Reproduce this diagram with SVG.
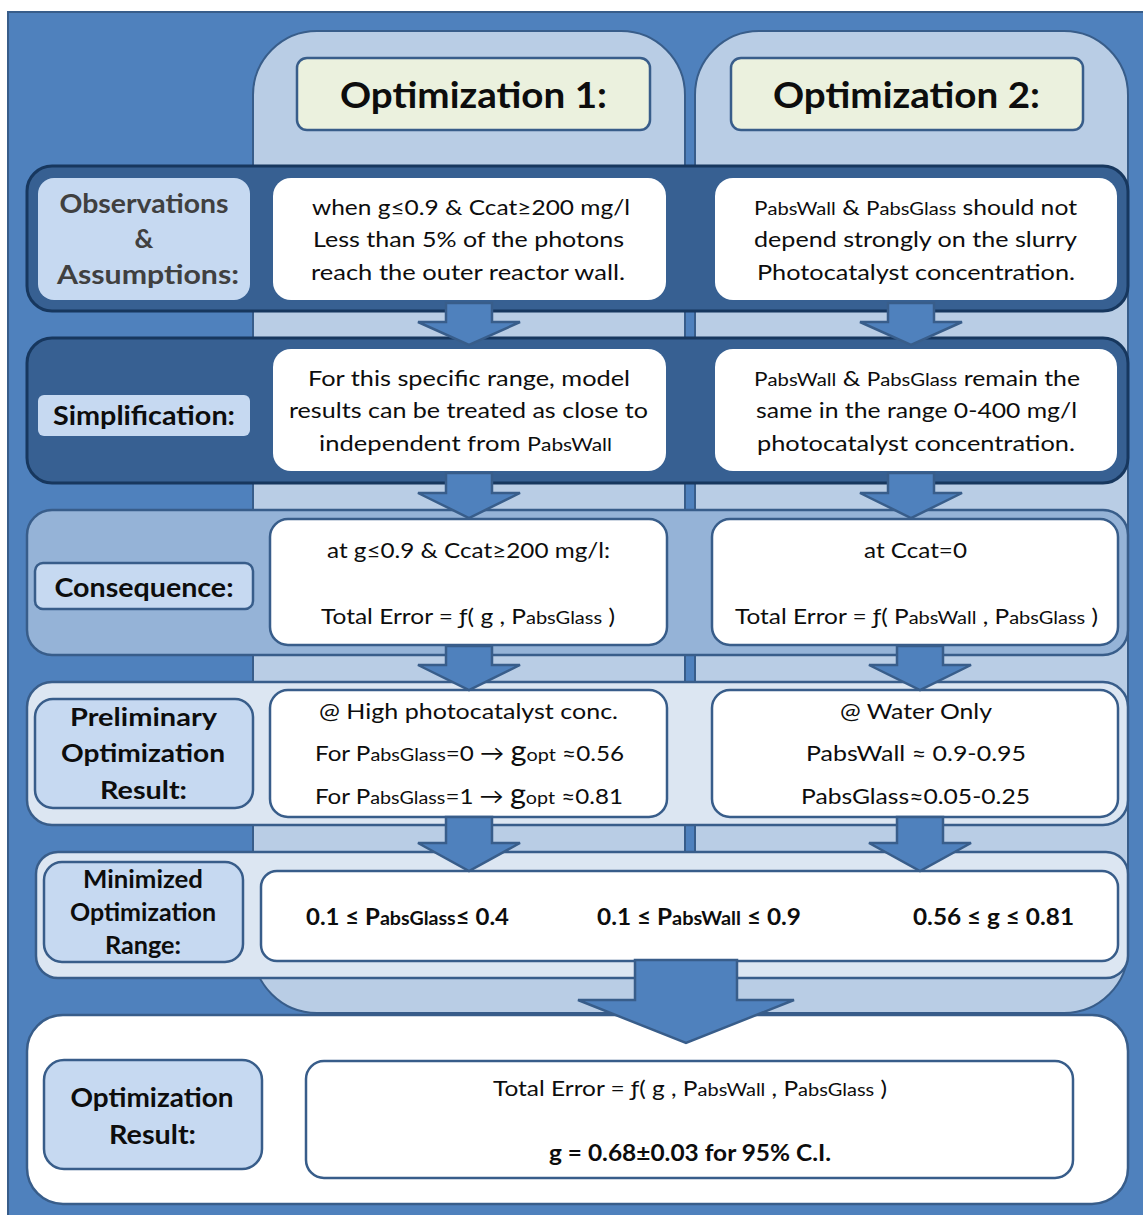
<svg xmlns="http://www.w3.org/2000/svg" width="1143" height="1215" viewBox="0 0 1143 1215">
  <style>
    text { font-family: Lato, "Open Sans", "DejaVu Sans", sans-serif; fill: #0d0d0d; text-anchor: middle; }
    .body { font-size: 22px; }
    .bold { font-weight: bold; }
    .head { font-size: 36px; font-weight: bold; }
    .lab { font-size: 26px; font-weight: bold; }
    .labS { font-size: 24px; font-weight: bold; }
    .grey { fill: #404040; }
    .s { font-size: 18px; }
    .g { font-size: 28px; }
    .col { fill: #b9cde5; stroke: #385d8a; stroke-width: 2; }
    .dark { fill: #376092; stroke: #17375e; stroke-width: 3; }
    .mid { fill: #95b3d7; stroke: #385d8a; stroke-width: 2.5; }
    .pale { fill: #dce6f2; stroke: #385d8a; stroke-width: 2.5; }
    .white { fill: #ffffff; }
    .wbox { fill: #ffffff; stroke: #385d8a; stroke-width: 2.5; }
    .label { fill: #c6d9f1; }
    .labelb { fill: #c6d9f1; stroke: #385d8a; stroke-width: 2.5; }
    .hdr { fill: #ebf1de; stroke: #385d8a; stroke-width: 2.5; }
    .arrow { fill: #4f81bd; stroke: #385d8a; stroke-width: 2.5; stroke-linejoin: miter; }
  </style>

  <!-- frame -->
  <rect x="8" y="12" width="1150" height="1215" fill="#4f81bd" stroke="#385d8a" stroke-width="2"/>

  <!-- column panels -->
  <g id="column-1">
    <rect class="col" x="253" y="31" width="432" height="982" rx="64" ry="64"/>
    <g id="header-1">
      <rect class="hdr" x="297" y="58" width="353" height="72" rx="10"/>
      <text class="head" x="473.5" y="108" textLength="267" lengthAdjust="spacingAndGlyphs">Optimization 1:</text>
    </g>
  </g>
  <g id="column-2">
    <rect class="col" x="695" y="31" width="433" height="982" rx="64" ry="64"/>
    <g id="header-2">
      <rect class="hdr" x="731" y="58" width="352" height="72" rx="10"/>
      <text class="head" x="906.5" y="108" textLength="267" lengthAdjust="spacingAndGlyphs">Optimization 2:</text>
    </g>
  </g>

  <!-- row 1: observations -->
  <g id="row-observations">
    <rect class="dark" x="27" y="166" width="1101" height="145" rx="25"/>
    <rect class="label" x="38" y="178" width="212" height="122" rx="16"/>
    <text class="lab grey" x="144" y="213" font-size="25" textLength="169" lengthAdjust="spacingAndGlyphs">Observations</text>
    <text class="lab grey" x="144" y="248" font-size="25">&amp;</text>
    <text class="lab grey" x="148" y="284" font-size="25" textLength="182" lengthAdjust="spacingAndGlyphs">Assumptions:</text>
  </g>
  <g id="obs-1">
    <rect class="white" x="273" y="178" width="393" height="122" rx="18"/>
    <text class="body" x="471" y="215" textLength="318" lengthAdjust="spacingAndGlyphs">when g≤0.9  &amp; Ccat≥200 mg/l</text>
    <text class="body" x="468.5" y="247" textLength="311" lengthAdjust="spacingAndGlyphs">Less than 5% of the photons</text>
    <text class="body" x="468" y="280" textLength="314" lengthAdjust="spacingAndGlyphs">reach the outer reactor wall.</text>
  </g>
  <g id="obs-2">
    <rect class="white" x="715" y="178" width="402" height="122" rx="18"/>
    <text class="body" x="915.5" y="215" textLength="323" lengthAdjust="spacingAndGlyphs"><tspan font-size="20">P</tspan><tspan class="s">absWall</tspan> &amp; <tspan font-size="20">P</tspan><tspan class="s">absGlass</tspan> should not</text>
    <text class="body" x="915.5" y="247" textLength="323" lengthAdjust="spacingAndGlyphs">depend strongly on the slurry</text>
    <text class="body" x="916" y="280" textLength="318" lengthAdjust="spacingAndGlyphs">Photocatalyst concentration.</text>
  </g>

  <!-- row 2: simplification -->
  <g id="row-simplification">
    <rect class="dark" x="27" y="338" width="1101" height="145" rx="25"/>
    <rect class="label" x="38" y="395" width="212" height="41" rx="6"/>
    <text class="lab" x="144" y="425" font-size="27" textLength="182" lengthAdjust="spacingAndGlyphs">Simplification:</text>
  </g>
  <g id="simp-1">
    <rect class="white" x="273" y="349" width="393" height="122" rx="18"/>
    <text class="body" x="469" y="386" textLength="322" lengthAdjust="spacingAndGlyphs">For this specific range, model</text>
    <text class="body" x="468.5" y="418" textLength="359" lengthAdjust="spacingAndGlyphs">results can be treated as close to</text>
    <text class="body" x="465.5" y="451" textLength="293" lengthAdjust="spacingAndGlyphs">independent from  <tspan font-size="20">P</tspan><tspan class="s">absWall</tspan></text>
  </g>
  <g id="simp-2">
    <rect class="white" x="715" y="349" width="402" height="122" rx="18"/>
    <text class="body" x="917" y="386" textLength="326" lengthAdjust="spacingAndGlyphs"><tspan font-size="20">P</tspan><tspan class="s">absWall</tspan> &amp; <tspan font-size="20">P</tspan><tspan class="s">absGlass</tspan> remain the</text>
    <text class="body" x="916.5" y="418" textLength="321" lengthAdjust="spacingAndGlyphs">same in the range 0-400 mg/l</text>
    <text class="body" x="916" y="451" textLength="318" lengthAdjust="spacingAndGlyphs">photocatalyst concentration.</text>
  </g>

  <!-- row 3: consequence -->
  <g id="row-consequence">
    <rect class="mid" x="27" y="510" width="1101" height="145" rx="25"/>
    <rect class="labelb" x="35" y="563" width="218" height="46" rx="8"/>
    <text class="lab" x="144" y="597" textLength="179" lengthAdjust="spacingAndGlyphs">Consequence:</text>
  </g>
  <g id="cons-1">
    <rect class="wbox" x="270" y="519" width="397" height="126" rx="18"/>
    <text class="body" x="468.5" y="558" textLength="283" lengthAdjust="spacingAndGlyphs">at g≤0.9 &amp; Ccat≥200 mg/l:</text>
    <text class="body" x="468" y="624" textLength="294" lengthAdjust="spacingAndGlyphs">Total Error = ƒ( g , P<tspan class="s">absGlass</tspan> )</text>
  </g>
  <g id="cons-2">
    <rect class="wbox" x="712" y="519" width="406" height="126" rx="18"/>
    <text class="body" x="915.5" y="558" textLength="103" lengthAdjust="spacingAndGlyphs">at Ccat=0</text>
    <text class="body" x="916.5" y="624" textLength="363" lengthAdjust="spacingAndGlyphs">Total Error = ƒ(  P<tspan class="s">absWall</tspan> , P<tspan class="s">absGlass</tspan> )</text>
  </g>

  <!-- row 4: preliminary result -->
  <g id="row-preliminary">
    <rect class="pale" x="27" y="682" width="1101" height="143" rx="25"/>
    <rect class="labelb" x="35" y="699" width="218" height="109" rx="18"/>
    <text class="labS" x="143.5" y="726" textLength="147" lengthAdjust="spacingAndGlyphs">Preliminary</text>
    <text class="labS" x="143" y="762" textLength="164" lengthAdjust="spacingAndGlyphs">Optimization</text>
    <text class="labS" x="143.5" y="799" textLength="87" lengthAdjust="spacingAndGlyphs">Result:</text>
  </g>
  <g id="prelim-1">
    <rect class="wbox" x="270" y="690" width="397" height="127" rx="18"/>
    <text class="body" x="468.5" y="719" textLength="299" lengthAdjust="spacingAndGlyphs">@ High photocatalyst conc.</text>
    <text class="body" x="469.5" y="761" textLength="309" lengthAdjust="spacingAndGlyphs">For P<tspan class="s">absGlass</tspan>=0 → <tspan class="g">g</tspan><tspan class="s">opt</tspan> ≈0.56</text>
    <text class="body" x="469" y="804" textLength="308" lengthAdjust="spacingAndGlyphs">For P<tspan class="s">absGlass</tspan>=1 → <tspan class="g">g</tspan><tspan class="s">opt</tspan> ≈0.81</text>
  </g>
  <g id="prelim-2">
    <rect class="wbox" x="712" y="690" width="406" height="127" rx="18"/>
    <text class="body" x="916" y="719" textLength="152" lengthAdjust="spacingAndGlyphs">@ Water Only</text>
    <text class="body" x="916" y="761" textLength="220" lengthAdjust="spacingAndGlyphs">PabsWall ≈ 0.9-0.95</text>
    <text class="body" x="915.5" y="804" textLength="229" lengthAdjust="spacingAndGlyphs">PabsGlass≈0.05-0.25</text>
  </g>

  <!-- row 5: minimized range -->
  <g id="row-minimized">
    <rect class="pale" x="36" y="852" width="1092" height="126" rx="22"/>
    <rect class="labelb" x="44" y="862" width="199" height="100" rx="18"/>
    <text class="labS" x="143" y="888" textLength="120" lengthAdjust="spacingAndGlyphs">Minimized</text>
    <text class="labS" x="143" y="921" textLength="146" lengthAdjust="spacingAndGlyphs">Optimization</text>
    <text class="labS" x="143" y="954" textLength="76" lengthAdjust="spacingAndGlyphs">Range:</text>
  </g>
  <g id="range">
    <rect class="wbox" x="261" y="871" width="857" height="90" rx="16"/>
    <text class="body bold" x="407.5" y="925" textLength="203" lengthAdjust="spacingAndGlyphs">0.1 ≤ P<tspan class="s">absGlass</tspan>≤ 0.4</text>
    <text class="body bold" x="699" y="925" textLength="204" lengthAdjust="spacingAndGlyphs">0.1 ≤ P<tspan class="s">absWall</tspan> ≤ 0.9</text>
    <text class="body bold" x="993.5" y="925" textLength="161" lengthAdjust="spacingAndGlyphs">0.56 ≤ g ≤ 0.81</text>
  </g>

  <!-- row 6: optimization result -->
  <g id="row-result">
    <rect class="wbox" x="27" y="1015" width="1101" height="189" rx="36"/>
    <rect class="labelb" x="44" y="1060" width="218" height="109" rx="20"/>
    <text class="lab" x="152" y="1107" textLength="163" lengthAdjust="spacingAndGlyphs">Optimization</text>
    <text class="lab" x="152.5" y="1144" textLength="87" lengthAdjust="spacingAndGlyphs">Result:</text>
  </g>
  <g id="result">
    <rect class="wbox" x="306" y="1061" width="767" height="117" rx="18"/>
    <text class="body" x="690" y="1096" textLength="394" lengthAdjust="spacingAndGlyphs">Total Error = ƒ( g , P<tspan class="s">absWall</tspan> , P<tspan class="s">absGlass</tspan> )</text>
    <text class="body bold" x="690" y="1161" textLength="282" lengthAdjust="spacingAndGlyphs">g = 0.68±0.03  for 95% C.I.</text>
  </g>

  <!-- block arrows between stages -->
  <g id="connectors">
    <polygon class="arrow" points="446,303 492,303 492,322 520,322 469,345 418,322 446,322"/>
    <polygon class="arrow" points="888,303 934,303 934,322 962,322 911,345 860,322 888,322"/>
    <polygon class="arrow" points="446,473 492,473 492,493 520,493 469,518 418,493 446,493"/>
    <polygon class="arrow" points="888,473 934,473 934,493 962,493 911,518 860,493 888,493"/>
    <polygon class="arrow" points="446,646 492,646 492,665 520,665 469,690 418,665 446,665"/>
    <polygon class="arrow" points="897,646 943,646 943,665 971,665 920,690 869,665 897,665"/>
    <polygon class="arrow" points="446,817 492,817 492,843 520,843 469,871 418,843 446,843"/>
    <polygon class="arrow" points="897,817 943,817 943,843 971,843 920,871 869,843 897,843"/>
    <polygon class="arrow" points="635,960 737,960 737,1000 794,1000 686,1043 578,1000 635,1000"/>
  </g>
</svg>
